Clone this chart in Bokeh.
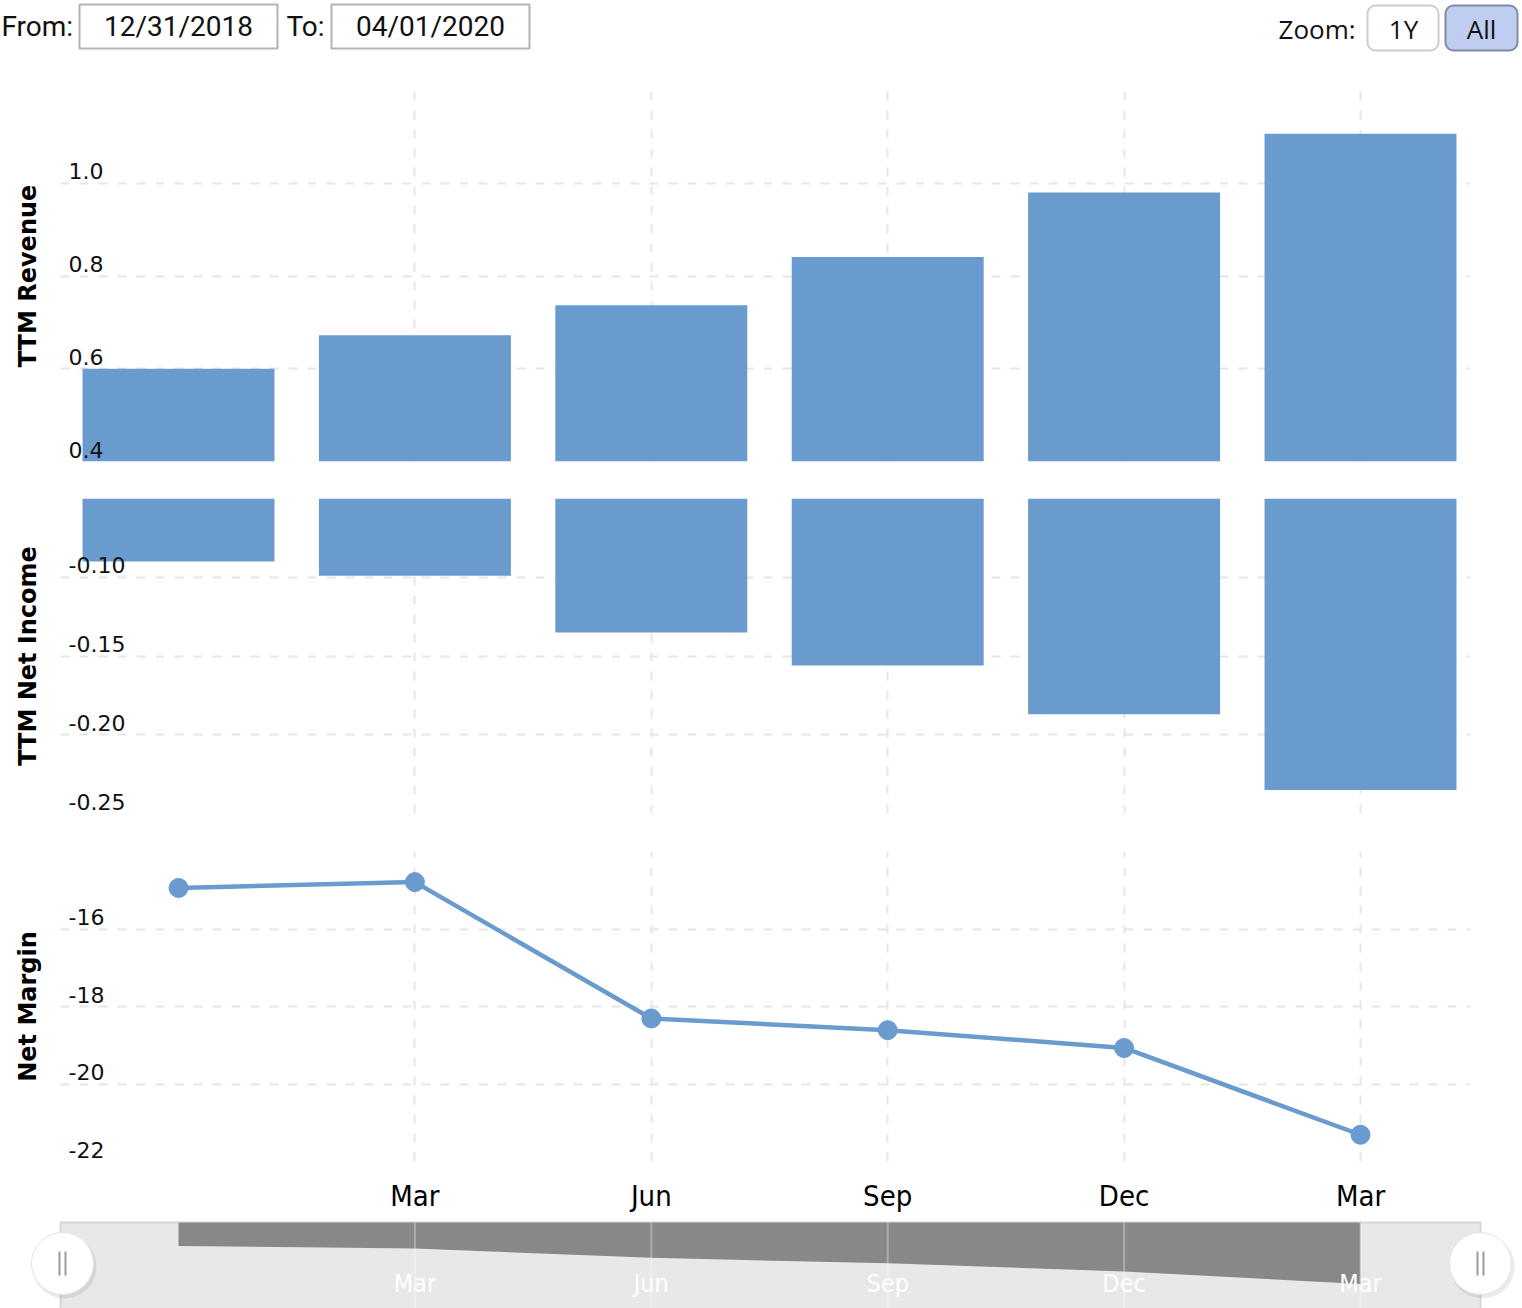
from bokeh.plotting import figure
from bokeh.layouts import column
from bokeh.models import Range1d, FixedTicker
from bokeh.core.properties import value
from bokeh.embed import file_html
from bokeh.resources import INLINE

# ---------------- data ----------------
quarters = ["2018-12-31", "2019-03-31", "2019-06-30", "2019-09-30", "2019-12-31", "2020-03-31"]
month_ticks = ["Mar", "Jun", "Sep", "Dec", "Mar"]
ttm_revenue = [0.600, 0.672, 0.737, 0.841, 0.980, 1.107]
ttm_net_income = [-0.090, -0.099, -0.135, -0.156, -0.187, -0.235]
net_margin = [-14.94, -14.79, -18.31, -18.61, -19.07, -21.31]

rev_ticks = [0.4, 0.6, 0.8, 1.0, 1.2]
rev_labels = ["0.4", "0.6", "0.8", "1.0"]
inc_ticks = [-0.25, -0.20, -0.15, -0.10, -0.05]
inc_labels = ["-0.25", "-0.20", "-0.15", "-0.10"]
mar_ticks = [-22, -20, -18, -16, -14]
mar_labels = ["-22", "-20", "-18", "-16"]

from_label, from_date = "From:", "12/31/2018"
to_label, to_date = "To:", "04/01/2020"
zoom_label, zoom_buttons = "Zoom:", ["1Y", "All"]

# ---------------- style ----------------
W = 1522
BLUE = "#699bcf"
GRID = "#e6e6e6"
DASH = "9 10"
TICK_FONT = value("DejaVu Sans")
MONTH_FONT_NAME = "DejaVu Sans Condensed, DejaVu Sans"
xs = list(range(len(quarters)))
XR = Range1d(-0.4992, 5.4653)
PPU = 1410 / (XR.end - XR.start)  # pixels per x unit
tick_pos = [1, 2, 3, 4, 5]


def free_frame(p, w, hgt):
    # keep this plot's frame independent from the aligned chart panes
    p.frame_width = w
    p.frame_height = hgt
    if "frame_align" in p.properties():
        p.frame_align = False


def pane(height, top, bottom, yr, ticks, labels, title, show_x=False):
    p = figure(width=W, height=height, x_range=XR, y_range=yr,
               output_backend="svg", toolbar_location=None,
               min_border_left=60, min_border_right=52,
               min_border_top=top, min_border_bottom=bottom)
    p.outline_line_color = None
    xt = FixedTicker(ticks=tick_pos)
    p.xaxis.ticker = xt
    p.xgrid.ticker = xt
    p.ygrid.ticker = FixedTicker(ticks=ticks)
    p.yaxis.ticker = FixedTicker(ticks=[])
    for g in (p.xgrid[0], p.ygrid[0]):
        g.grid_line_color = GRID
        g.grid_line_width = 2
        g.grid_line_dash = DASH
    ya = p.yaxis[0]
    ya.axis_line_color = None
    ya.major_tick_line_color = None
    ya.minor_tick_line_color = None
    ya.axis_label = title
    ya.axis_label_text_font = "DejaVu Sans"
    ya.axis_label_text_font_style = "bold"
    ya.axis_label_text_font_size = "24px"
    ya.axis_label_text_color = "#000000"
    ya.axis_label_standoff = 19
    xa = p.xaxis[0]
    if show_x:
        xa.major_label_overrides = {t: m for t, m in zip(tick_pos, month_ticks)}
        xa.axis_line_color = None
        xa.major_tick_line_color = None
        xa.minor_tick_line_color = None
        xa.major_tick_out = 0
        xa.major_tick_in = 0
        xa.major_label_standoff = 17
        xa.major_label_text_font = MONTH_FONT_NAME
        xa.major_label_text_font_size = "29px"
        xa.major_label_text_color = "#000000"
    else:
        xa.visible = False
    return p


def tick_text(p, ticks, labels):
    p.text(x=[XR.start] * len(labels), y=ticks[:len(labels)], text=labels,
           x_offset=8, y_offset=-12, text_align="left", text_baseline="alphabetic",
           text_font=TICK_FONT, text_font_size="22px", text_color="#111111")


# ---------------- header ----------------
h = figure(width=W, height=80, x_range=Range1d(0, W), y_range=Range1d(80, 0),
           x_axis_type=None, y_axis_type=None, output_backend="svg",
           toolbar_location=None, min_border=0,
           min_border_left=0, min_border_right=0, min_border_top=0, min_border_bottom=0)
free_frame(h, W, 80)
h.outline_line_color = None
h.grid.visible = False
h.quad(left=[79, 331], right=[277, 529], top=[4, 4], bottom=[48, 48],
       fill_color="white", line_color="#b3b3b3", line_width=2)
h.text(x=[1, 286], y=[26, 26], text=[from_label, to_label], text_baseline="middle",
       text_align="left", text_font=value("Roboto"), text_font_size="28px", text_color="#111111")
h.text(x=[178, 430], y=[26, 26], text=[from_date, to_date], text_baseline="middle",
       text_align="center", text_font=value("Roboto"), text_font_size="28px", text_color="#111111")
h.quad(left=[1367], right=[1438], top=[5], bottom=[50], fill_color="white",
       line_color="#cccccc", line_width=2, border_radius=8)
h.quad(left=[1445], right=[1517], top=[5], bottom=[50], fill_color="#bfcdf0",
       line_color="#7f8aa8", line_width=2, border_radius=8)
h.text(x=[1278], y=[28], text=[zoom_label], text_baseline="middle", text_align="left",
       text_font=value("Open Sans"), text_font_size="26px", text_color="#111111")
h.text(x=[1403, 1481], y=[28, 28], text=zoom_buttons, text_baseline="middle", text_align="center",
       text_font=value("Open Sans"), text_font_size="26px", text_color="#111111")

# ---------------- revenue pane ----------------
p1 = pane(400, 10, 19, Range1d(0.4, 1.2), rev_ticks, rev_labels, "TTM Revenue")
p1.vbar(x=xs, top=ttm_revenue, bottom=0, width=0.812, fill_color=BLUE, line_color=None)
tick_text(p1, rev_ticks, rev_labels)

# ---------------- net income pane ----------------
p2 = pane(352, 18, 19, Range1d(-0.25, -0.05), inc_ticks, inc_labels, "TTM Net Income")
p2.vbar(x=xs, top=0, bottom=ttm_net_income, width=0.812, fill_color=BLUE, line_color=None)
tick_text(p2, inc_ticks, inc_labels)

# ---------------- net margin pane ----------------
p3 = pane(383, 19, 51, Range1d(-22, -14), mar_ticks, mar_labels, "Net Margin", show_x=True)
p3.line(x=xs, y=net_margin, line_color=BLUE, line_width=4.5)
p3.scatter(x=xs, y=net_margin, size=19, fill_color=BLUE, line_color=BLUE)
tick_text(p3, mar_ticks, mar_labels)

# ---------------- navigator ----------------
NPY = 262.0  # pixels per unit (navigator y)
nav_xr = Range1d(XR.start - 60 / PPU, 5 + (W - 1360) / PPU)
nav_yr = Range1d(-(1308 - 1222) / NPY, (1222 - 1215) / NPY)
nav_left = XR.start
nav_right = 5 + 120 / PPU
nav = figure(width=W, height=93, x_range=nav_xr, y_range=nav_yr,
             x_axis_type=None, y_axis_type=None, output_backend="svg",
             toolbar_location=None, min_border=0,
             min_border_left=0, min_border_right=0, min_border_top=0, min_border_bottom=0)
free_frame(nav, W, 93)
nav.outline_line_color = None
nav.grid.visible = False
nav.quad(left=[nav_left], right=[nav_right], top=[0], bottom=[nav_yr.start - 1],
         fill_color="#e8e8e8", line_color="#d6d6d6", line_width=2)
nav.varea(x=xs, y1=[0] * len(xs), y2=ttm_net_income, fill_color="#888888")
nav.segment(x0=tick_pos, x1=tick_pos, y0=[0] * 5, y1=[nav_yr.start] * 5,
            line_color="#ffffff", line_alpha=0.3, line_width=2)
nav.text(x=tick_pos, y=[-(1283 - 1222) / NPY] * 5, text=month_ticks,
         text_align="center", text_baseline="middle", text_font=value(MONTH_FONT_NAME),
         text_font_size="25px", text_color="#ffffff")
hy = -(1263 - 1222) / NPY
hx = [nav_left + 2 / PPU, nav_right]
nav.scatter(x=[v + 2 / PPU for v in hx], y=[hy - 3 / NPY] * 2, size=64,
            fill_color="#000000", fill_alpha=0.08, line_color=None)
nav.scatter(x=hx, y=[hy] * 2, size=62, fill_color="white", line_color="#e2e2e2", line_width=1)
gx = []
for v in hx:
    gx += [v - 3 / PPU, v + 3 / PPU]
nav.segment(x0=gx, x1=gx, y0=[hy - 12 / NPY] * 4, y1=[hy + 12 / NPY] * 4,
            line_color="#9a9a9a", line_width=2)

layout = column(h, p1, p2, p3, nav, spacing=0)
open("out.html", "w").write(file_html(layout, INLINE))
